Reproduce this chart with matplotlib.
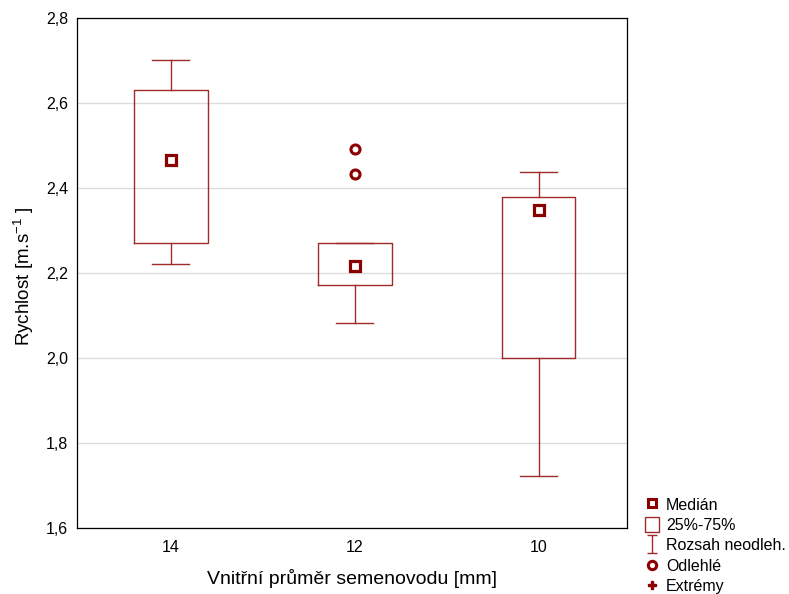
import numpy as np
import matplotlib
matplotlib.use('Agg')
import matplotlib.pyplot as plt
from matplotlib.lines import Line2D
from matplotlib.patches import Rectangle
from matplotlib.path import Path

plt.rcParams['font.family'] = ['Liberation Sans', 'DejaVu Sans']

## Data
groups = ['14', '12', '10']
q1 = [2.271, 2.172, 2.000]
q3 = [2.630, 2.271, 2.380]
med = [2.466, 2.216, 2.348]
wlo = [2.221, 2.083, 1.723]
whi = [2.701, 2.271, 2.438]
outliers = [[], [2.433, 2.492], []]

dark = '#8b0000'
boxc = '#a02a2a'

stats = []
for i in range(len(groups)):
    stats.append(dict(med=med[i], q1=q1[i], q3=q3[i], whislo=wlo[i], whishi=whi[i],
                      fliers=outliers[i], label=groups[i]))

fig = plt.figure(figsize=(7.89, 5.94), dpi=100)
ax = fig.add_axes([77/789, 66/594, 550/789, 510/594])

pos = np.arange(len(groups))
ax.bxp(stats, positions=pos, widths=0.4, capwidths=0.2,
       boxprops=dict(color=boxc, lw=1.0),
       whiskerprops=dict(color=boxc, lw=1.0),
       capprops=dict(color=boxc, lw=1.0),
       medianprops=dict(linestyle='none'),
       flierprops=dict(marker='o', markersize=6.5, markerfacecolor='none',
                       markeredgecolor=dark, markeredgewidth=2.2),
       zorder=3)
ax.plot(pos, med, 's', ms=6.5, mfc='white', mec=dark, mew=2.3, ls='none', zorder=4)

ax.set_xlim(-0.51, 2.48)
ax.set_ylim(1.6, 2.8)
yt = np.arange(1.6, 2.81, 0.2)
ax.set_yticks(yt)
ax.set_yticklabels([('%.1f' % v).replace('.', ',') for v in yt])
ax.set_xticks(pos)
ax.set_xticklabels(groups)
ax.tick_params(length=0, labelsize=11.5)
ax.tick_params(axis='y', pad=6.5)
ax.tick_params(axis='x', pad=9)
ax.grid(axis='y', color='#dcdcdc', lw=1.0, zorder=0)
ax.set_axisbelow(True)
for s in ax.spines.values():
    s.set_color('black')
    s.set_linewidth(0.9)

ax.set_ylabel('Rychlost [m.s$^{\\mathregular{-1}}$ ]', fontsize=13.5, labelpad=6)
ax.yaxis.set_label_coords(-0.075, 0.494)
ax.set_xlabel('Vnitřní průměr semenovodu [mm]', fontsize=14, labelpad=10)

## Legend (outside, bottom right)
ibeam = Path([(-0.5, 1), (0.5, 1), (0, 1), (0, -1), (-0.5, -1), (0.5, -1)],
             [Path.MOVETO, Path.LINETO, Path.MOVETO, Path.LINETO, Path.MOVETO, Path.LINETO])
handles = [
    Line2D([], [], marker='s', ls='none', ms=6, mfc='white', mec=dark, mew=2.2),
    Rectangle((0, 0), 1, 1, facecolor='white', edgecolor=boxc, lw=1.0),
    Line2D([], [], marker=ibeam, ls='none', ms=13, mfc='none', mec=boxc, mew=1.0),
    Line2D([], [], marker='o', ls='none', ms=6, mfc='none', mec=dark, mew=2.2),
    Line2D([], [], marker='P', ls='none', ms=6, mfc=dark, mec=dark),
]
labels = ['Medián', '25%-75%', 'Rozsah neodleh.', 'Odlehlé', 'Extrémy']
fig.legend(handles, labels, loc='upper left', bbox_to_anchor=(645/789, 1 - 497/594),
           frameon=False, fontsize=11.5, handlelength=0.9, handleheight=1.0,
           handletextpad=0.4, labelspacing=0.3, borderaxespad=0, borderpad=0)

fig.savefig('out.png', dpi=100)
